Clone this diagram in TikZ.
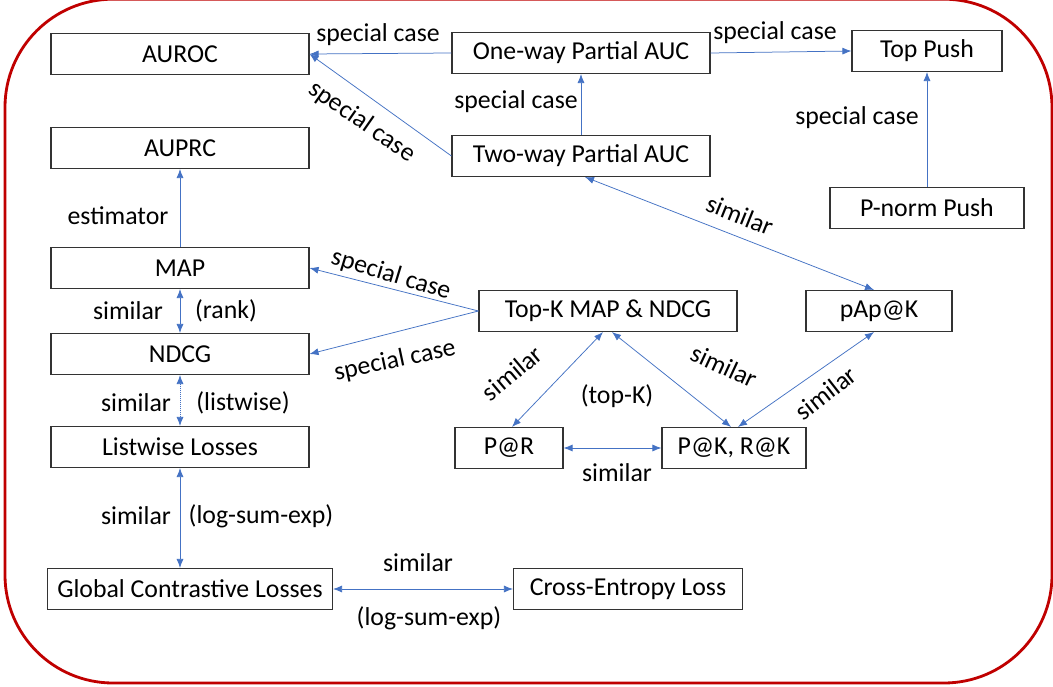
\documentclass[tikz,border=0pt]{standalone}
\usepackage{fontspec}
\setmainfont{Carlito}
\usetikzlibrary{arrows.meta}
\definecolor{arrowblue}{RGB}{68,114,196}
\definecolor{framered}{RGB}{192,0,0}
\begin{document}
\begin{tikzpicture}[x=1pt,y=-1pt,
  txt/.style={font=\fontsize{25.8}{30}\selectfont},
  box/.style={txt, draw=black!80, line width=1.1pt, minimum height=41pt, inner sep=0pt},
  lbl/.style={txt, inner sep=0pt, anchor=center},
  conn/.style={arrowblue, line width=0.75pt, -{Latex[length=9pt,width=7pt]}},
  bconn/.style={arrowblue, line width=0.75pt, {Latex[length=9pt,width=7pt]}-{Latex[length=9pt,width=7pt]}}
]
\useasboundingbox (0,0) rectangle (1053,687);
\fill[white] (0,0) rectangle (1053,687);
\begin{scope}
\clip (0,0) rectangle (1053,687);
\draw[framered, line width=2.8pt, rounded corners=108pt] (5,-0.8) rectangle (1052,683);
\end{scope}

% nodes
\node[box, minimum width=258pt] (auroc)  at (180,54)  {AUROC};
\node[box, minimum width=258pt] (auprc)  at (180,148) {AUPRC};
\node[box, minimum width=258pt] (oneway) at (581,53)  {One-way Partial AUC};
\node[box, minimum width=150pt] (toppush) at (927,51) {Top Push};
\node[box, minimum width=258pt] (twoway) at (581,156) {Two-way Partial AUC};
\node[box, minimum width=194pt] (pnorm)  at (927,208) {P-norm Push};
\node[box, minimum width=258pt] (map)    at (180,268) {MAP};
\node[box, minimum width=258pt] (ndcg)   at (180,354) {NDCG};
\node[box, minimum width=258pt] (listw)  at (180,447) {Listwise Losses};
\node[box, minimum width=258pt] (topk)   at (608,311) {Top-K MAP \& NDCG};
\node[box, minimum width=146pt] (papk)   at (879,311) {pAp@K};
\node[box, minimum width=108pt] (par)    at (509,448) {P@R};
\node[box, minimum width=144pt] (pkrk)   at (734,448) {P@K, R@K};
\node[box, minimum width=285pt] (gcl)    at (190,589) {Global Contrastive Losses};
\node[box, minimum width=229pt] (ce)     at (628,589) {Cross-Entropy Loss};

% connectors
\draw[conn] (oneway.west) -- (auroc.east);
\draw[conn] (twoway.west) -- (auroc.east);
\draw[conn] (twoway.north) -- (oneway.south);
\draw[conn] (oneway.east) -- (toppush.west);
\draw[conn] (pnorm.north) -- (toppush.south);
\draw[bconn] ([xshift=4pt]twoway.south) -- ([xshift=-5pt]papk.north);
\draw[conn] (map.north) -- (auprc.south);
\draw[bconn] (map.south) -- (ndcg.north);
\draw[bconn, dash pattern=on 1pt off 1pt] (ndcg.south) -- (listw.north);
\draw[bconn] (listw.south) -- (gcl.north -| listw.south);
\draw[bconn] (gcl.east) -- (ce.west);
\draw[conn] (topk.west) -- (map.east);
\draw[conn] (topk.west) -- (ndcg.east);
\draw[bconn] ([xshift=-5pt]topk.south) -- ([xshift=3pt]par.north);
\draw[bconn] ([xshift=4pt]topk.south) -- ([xshift=-3pt]pkrk.north);
\draw[bconn] ([xshift=-5pt]papk.south) -- ([xshift=4pt]pkrk.north);
\draw[bconn] (par.east) -- (pkrk.west);

% labels
\node[lbl] (l1) at (378,35) {special case};
\node[lbl, rotate=-35] (l2) at (362,122) {special case};
\node[lbl] (l3) at (516,102) {special case};
\node[lbl] (l4) at (775,33) {special case};
\node[lbl] (l5) at (857,118) {special case};
\node[lbl, rotate=-22] (l6) at (740,215) {similar};
\node[lbl] (l7) at (118,216) {estimator};
\node[lbl] (l8) at (128,311) {similar};
\node[lbl] (l9) at (226,311) {(rank)};
\node[lbl] (l10) at (136,403) {similar};
\node[lbl] (l11) at (243,403) {(listwise)};
\node[lbl] (l12) at (136,516) {similar};
\node[lbl] (l13) at (261,516) {(log-sum-exp)};
\node[lbl] (l14) at (418,563) {similar};
\node[lbl] (l15) at (429,618) {(log-sum-exp)};
\node[lbl, rotate=-17] (l16) at (391,275) {special case};
\node[lbl, rotate=12] (l17) at (395,361) {special case};
\node[lbl, rotate=40] (l18) at (512,373) {similar};
\node[lbl, rotate=-25] (l19) at (724,366) {similar};
\node[lbl, rotate=38] (l20) at (826,393) {similar};
\node[lbl] (l21) at (617,396) {(top-K)};
\node[lbl] (l22) at (617,473) {similar};
\end{tikzpicture}
\end{document}
